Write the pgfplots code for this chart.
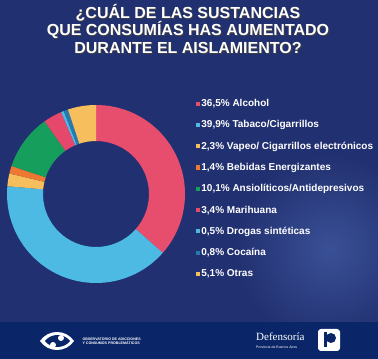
\documentclass[border=0pt]{standalone}
\usepackage{pgfplots}
\pgfplotsset{compat=1.18}
\usepackage{fontspec}
\setmainfont{Liberation Sans}
\newfontfamily\serifdef{Liberation Serif}
\definecolor{bg}{RGB}{33,48,112}
\definecolor{bglight}{RGB}{58,80,150}
\definecolor{footer}{RGB}{10,38,104}
\definecolor{cA}{RGB}{231,78,110}
\definecolor{cB}{RGB}{76,186,226}
\definecolor{cC}{RGB}{246,190,92}
\definecolor{cD}{RGB}{236,120,50}
\definecolor{cE}{RGB}{22,158,92}
\definecolor{cF}{RGB}{230,72,108}
\definecolor{cG}{RGB}{80,184,226}
\definecolor{cH}{RGB}{36,122,174}
\definecolor{cI}{RGB}{246,190,92}
\begin{document}
\begin{tikzpicture}
\begin{axis}[hide axis, x=1pt, y=1pt, xmin=0, xmax=378, ymin=0, ymax=359,
  scale only axis, clip=false, at={(0,0)}, anchor=south west,
  legend style={at={(axis cs:195.5,261.3)}, anchor=north west, draw=none, fill=none,
    text=white, font=\bfseries\fontsize{10}{11}\selectfont, row sep=9.5pt,
    inner sep=0pt, nodes={inner sep=1.5pt}},
  legend cell align=left,
  legend image code/.code={\fill[#1] (0pt,-2pt) rectangle (4.2pt,2.2pt);},
]
% background
\pgfplotsextra{
  \fill[bg] (axis cs:0,0) rectangle (axis cs:378,359);
  \begin{scope}
    \clip (axis cs:0,37) rectangle (axis cs:378,359);
    \shade[inner color=bglight, outer color=bg] (axis cs:330,110) circle[radius=95pt];
  \end{scope}
  \fill[footer] (axis cs:0,0) rectangle (axis cs:378,37);
}
% donut sectors: value/colour, clockwise from top
\pgfplotsextra{
  \xdef\startang{90}
  \foreach \v/\c in {36.5/cA, 39.9/cB, 2.3/cC, 1.4/cD, 10.1/cE, 3.4/cF, 0.5/cG, 0.8/cH, 5.1/cI}{
    \pgfmathsetmacro\endang{\startang-3.6*\v}
    \begin{scope}[shift={(axis cs:96,165)}]
      \fill[\c] (\startang:53pt) -- (\startang:89pt)
        arc[start angle=\startang, end angle=\endang, radius=89pt]
        -- (\endang:53pt)
        arc[start angle=\endang, end angle=\startang, radius=53pt] -- cycle;
    \end{scope}
    \xdef\startang{\endang}
  }
}
\addlegendimage{fill=cA, draw=none}\addlegendentry{36,5\% Alcohol}
\addlegendimage{fill=cB, draw=none}\addlegendentry{39,9\% Tabaco/Cigarrillos}
\addlegendimage{fill=cC, draw=none}\addlegendentry{2,3\% Vapeo/ Cigarrillos electrónicos}
\addlegendimage{fill=cD, draw=none}\addlegendentry{1,4\% Bebidas Energizantes}
\addlegendimage{fill=cE, draw=none}\addlegendentry{10,1\% Ansiolíticos/Antidepresivos}
\addlegendimage{fill=cF, draw=none}\addlegendentry{3,4\% Marihuana}
\addlegendimage{fill=cG, draw=none}\addlegendentry{0,5\% Drogas sintéticas}
\addlegendimage{fill=cH, draw=none}\addlegendentry{0,8\% Cocaína}
\addlegendimage{fill=cI, draw=none}\addlegendentry{5,1\% Otras}
% title
\pgfplotsextra{
  \foreach \dx/\dy/\col in {0.9/-0.9/black!75, 0/0/white}{
    \node[text=\col, font=\bfseries\fontsize{16}{17.5}\selectfont, align=center, anchor=north]
      at ([shift={(\dx pt,\dy pt)}]axis cs:188,358.5) {¿CUÁL DE LAS SUSTANCIAS\\QUE CONSUMÍAS HAS AUMENTADO\\DURANTE EL AISLAMIENTO?};
  }
  % footer logos
  \fill[white] (axis cs:40,18) .. controls (axis cs:48,30) and (axis cs:66,30) .. (axis cs:74,18)
     .. controls (axis cs:66,6) and (axis cs:48,6) .. cycle;
  \fill[footer] (axis cs:45,18) .. controls (axis cs:51,26) and (axis cs:64,26) .. (axis cs:70,18)
     .. controls (axis cs:64,10) and (axis cs:51,10) .. cycle;
  \fill[white] (axis cs:61,21) circle[radius=3pt];
  \fill[white] (axis cs:53,14) circle[radius=3pt];
  \node[text=white, font=\bfseries\fontsize{3.6}{4.4}\selectfont, align=left, anchor=west]
    at (axis cs:79,18) {OBSERVATORIO DE ADICCIONES\\Y CONSUMOS PROBLEMÁTICOS};
  \node[text=white, font=\serifdef\fontsize{11}{12}\selectfont, anchor=base west, inner sep=0pt]
    at (axis cs:256,18) {Defensoría};
  \node[text=white, font=\fontsize{3.5}{4}\selectfont, anchor=base west, inner sep=0pt]
    at (axis cs:256,10) {Provincia de Buenos Aires};
  \fill[white, rounded corners=3pt] (axis cs:318,8) rectangle (axis cs:340,30);
  \fill[footer] (axis cs:331,21) circle[radius=5pt];
  \fill[footer] (axis cs:324,12) rectangle (axis cs:327,27);
}
\end{axis}
\end{tikzpicture}
\end{document}
